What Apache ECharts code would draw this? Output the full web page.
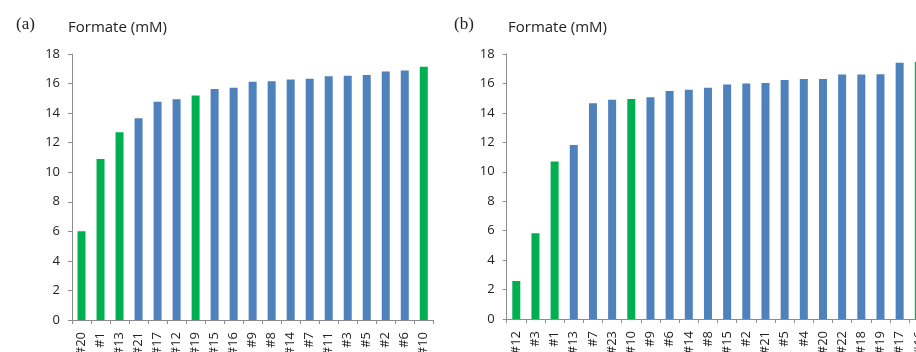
<!DOCTYPE html>
<html><head><meta charset="utf-8">
<script src="https://cdn.jsdelivr.net/npm/echarts@6/dist/echarts.min.js"></script>
<style>html,body{margin:0;padding:0;background:#fff}#c{width:916px;height:352px}</style>
</head><body><div id="c"></div>
<script>
// Panel (a)
var catsA = ['#20','#1','#13','#21','#17','#12','#19','#15','#16','#9','#8','#14','#7','#11','#3','#5','#2','#6','#10'];
var valsA = [6.0,10.9,12.7,13.65,14.77,14.93,15.2,15.63,15.72,16.12,16.15,16.28,16.33,16.49,16.53,16.58,16.82,16.89,17.14];
var greenA = ['#20','#1','#13','#19','#10'];
// Panel (b)
var catsB = ['#12','#3','#1','#13','#7','#23','#10','#9','#6','#14','#8','#15','#2','#21','#5','#4','#20','#22','#18','#19','#17','#16'];
var valsB = [2.58,5.82,10.69,11.82,14.65,14.9,14.95,15.06,15.49,15.58,15.71,15.92,15.99,16.03,16.24,16.3,16.3,16.6,16.6,16.62,17.41,17.48];
var greenB = ['#12','#3','#1','#10','#16'];
var yTicks = [0,2,4,6,8,10,12,14,16,18];

var BLUE = '#4f81bd', GREEN = '#00b050';
function build(cats, vals, greens){
  return vals.map(function(v,i){
    return {value:v, itemStyle:{color: greens.indexOf(cats[i])>=0 ? GREEN : BLUE}};
  });
}
var chart = echarts.init(document.getElementById('c'), null, {renderer:'canvas'});
var axisLineStyle = {color:'#8c8c8c', width:1};
function xAxis(idx, cats){
  return {type:'category', gridIndex:idx, data:cats,
    axisLine:{show:true, lineStyle:axisLineStyle},
    axisTick:{show:true, alignWithLabel:false, length:4, lineStyle:axisLineStyle},
    axisLabel:{rotate:90, interval:0, fontSize:13, color:'#222', fontFamily:'Open Sans', margin:12}};
}
function yAxis(idx){
  return {type:'value', gridIndex:idx, min:yTicks[0], max:yTicks[yTicks.length-1], interval:2,
    splitLine:{show:false},
    axisLine:{show:true, lineStyle:axisLineStyle},
    axisTick:{show:true, length:4, lineStyle:axisLineStyle},
    axisLabel:{fontSize:13, color:'#222', fontFamily:'Open Sans', margin:12}};
}
chart.setOption({
  animation:false,
  backgroundColor:'#fff',
  title:[
    {text:'(a)', left:11, top:11, textStyle:{fontFamily:'Liberation Serif', fontSize:17, fontWeight:'normal', color:'#222'}},
    {text:'Formate (mM)', left:63, top:15, textStyle:{fontFamily:'Open Sans', fontSize:15, fontWeight:'normal', color:'#222'}},
    {text:'(b)', left:449, top:11, textStyle:{fontFamily:'Liberation Serif', fontSize:17, fontWeight:'normal', color:'#222'}},
    {text:'Formate (mM)', left:503, top:15, textStyle:{fontFamily:'Open Sans', fontSize:15, fontWeight:'normal', color:'#222'}}
  ],
  grid:[
    {left:72, top:54, width:361.3, height:266, outerBoundsMode:'none', containLabel:false},
    {left:506.7, top:54, width:421.7, height:265, outerBoundsMode:'none', containLabel:false}
  ],
  xAxis:[xAxis(0,catsA), xAxis(1,catsB)],
  yAxis:[yAxis(0), yAxis(1)],
  series:[
    {type:'bar', xAxisIndex:0, yAxisIndex:0, data:build(catsA,valsA,greenA), barWidth:8},
    {type:'bar', xAxisIndex:1, yAxisIndex:1, data:build(catsB,valsB,greenB), barWidth:8}
  ]
});
</script></body></html>
